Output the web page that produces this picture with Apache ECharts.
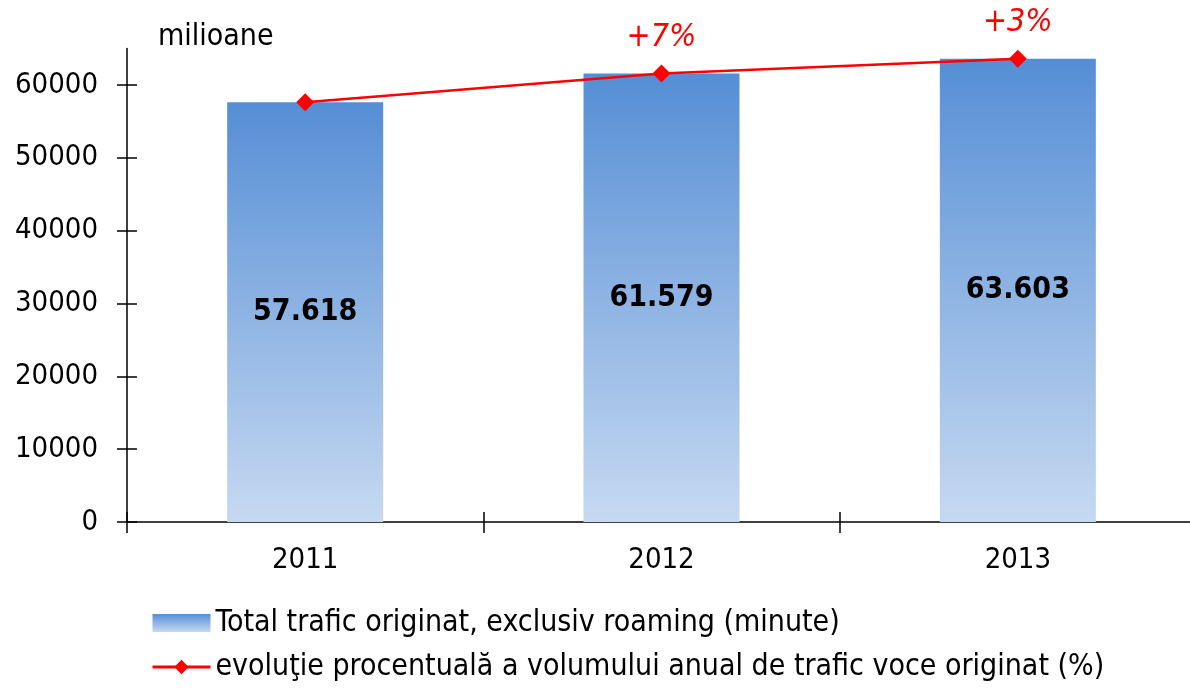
<!DOCTYPE html>
<html>
<head>
<meta charset="utf-8">
<script src="https://cdn.jsdelivr.net/npm/echarts@6/dist/echarts.min.js"></script>
<style>
  html, body { margin: 0; padding: 0; background: #fff; }
  #chart { width: 1190px; height: 691px; }
</style>
</head>
<body>
<div id="chart"></div>
<script>
// date
const years = ['2011', '2012', '2013'];
const traffic = [57618, 61579, 63603];
const growth = ['', '+7%', '+3%'];
const yTicks = [0, 10000, 20000, 30000, 40000, 50000, 60000];

const barName = 'Total trafic originat, exclusiv roaming (minute)';
const lineName = 'evoluţie procentuală a volumului anual de trafic voce originat (%)';

const font = '"DejaVu Sans Condensed", "DejaVu Sans", sans-serif';

// dimensiuni grila
const gridLeft = 127, gridRight = -6, gridTop = 48.6, gridBottom = 169;
const gridW = 1190 - gridLeft - gridRight;
const gridH = 691 - gridTop - gridBottom;

// separator de mii cu punct
const fmt = (v) => String(v).replace(/\B(?=(\d{3})+(?!\d))/g, '.');

const chart = echarts.init(document.getElementById('chart'), null, { renderer: 'canvas' });

const barColor = new echarts.graphic.LinearGradient(0, 0, 0, 1, [
  { offset: 0, color: '#558ed5' },
  { offset: 1, color: '#c6d9f1' }
]);

const tickStyle = { color: '#000', width: 1.5 };

chart.setOption({
  animation: false,
  backgroundColor: '#fff',
  title: {
    text: 'milioane',
    left: 153,
    top: 17,
    textStyle: { fontFamily: font, fontSize: 30, fontWeight: 'normal', color: '#000' }
  },
  legend: {
    orient: 'vertical',
    left: 146,
    top: 602,
    itemWidth: 58,
    itemHeight: 18,
    itemGap: 12,
    textStyle: { fontFamily: font, fontSize: 30, color: '#000', lineHeight: 32 },
    data: [
      { name: barName, icon: 'rect' },
      { name: lineName, lineStyle: { width: 3 } }
    ]
  },
  grid: {
    left: gridLeft,
    right: gridRight,
    top: gridTop,
    bottom: gridBottom,
    outerBoundsMode: 'none'
  },
  xAxis: [
    {
      type: 'category',
      data: years,
      axisLine: { lineStyle: { color: '#000', width: 1.5 } },
      axisTick: { show: true, inside: false, length: 11, lineStyle: tickStyle },
      axisLabel: { fontFamily: font, fontSize: 29, color: '#000', margin: 24 }
    },
    {
      // a doua axa doar pentru liniutele spre interior
      type: 'category',
      data: years,
      position: 'top',
      offset: -gridH,
      axisLine: { show: false },
      axisTick: { show: true, inside: false, length: 10, lineStyle: tickStyle },
      axisLabel: { show: false }
    }
  ],
  yAxis: [
    {
      type: 'value',
      min: 0,
      max: 65000,
      interval: 10000,
      axisLine: { show: true, lineStyle: { color: '#000', width: 1.5 } },
      axisTick: { show: true, inside: false, length: 10, customValues: yTicks, lineStyle: tickStyle },
      axisLabel: {
        fontFamily: font, fontSize: 29, color: '#000', margin: 29,
        customValues: yTicks, formatter: (v) => String(v)
      },
      splitLine: { show: false }
    },
    {
      type: 'value',
      min: 0,
      max: 65000,
      interval: 10000,
      position: 'right',
      offset: -gridW,
      axisLine: { show: false },
      axisTick: { show: true, inside: false, length: 10, customValues: yTicks, lineStyle: tickStyle },
      axisLabel: { show: false },
      splitLine: { show: false }
    }
  ],
  series: [
    {
      name: barName,
      type: 'bar',
      data: traffic,
      barWidth: 156,
      itemStyle: { color: barColor },
      label: {
        show: true,
        position: 'inside',
        formatter: (p) => fmt(p.value),
        fontFamily: font,
        fontSize: 30,
        fontWeight: 'bold',
        color: '#000'
      }
    },
    {
      name: lineName,
      type: 'line',
      data: traffic,
      symbol: 'diamond',
      symbolSize: 18,
      itemStyle: { color: '#ff0000' },
      lineStyle: { color: '#ff0000', width: 2.5 },
      label: {
        show: true,
        position: 'top',
        distance: 11,
        formatter: (p) => growth[p.dataIndex],
        fontFamily: font,
        fontSize: 32,
        fontStyle: 'italic',
        color: '#ff0000'
      },
      z: 5
    }
  ]
});
</script>
</body>
</html>
